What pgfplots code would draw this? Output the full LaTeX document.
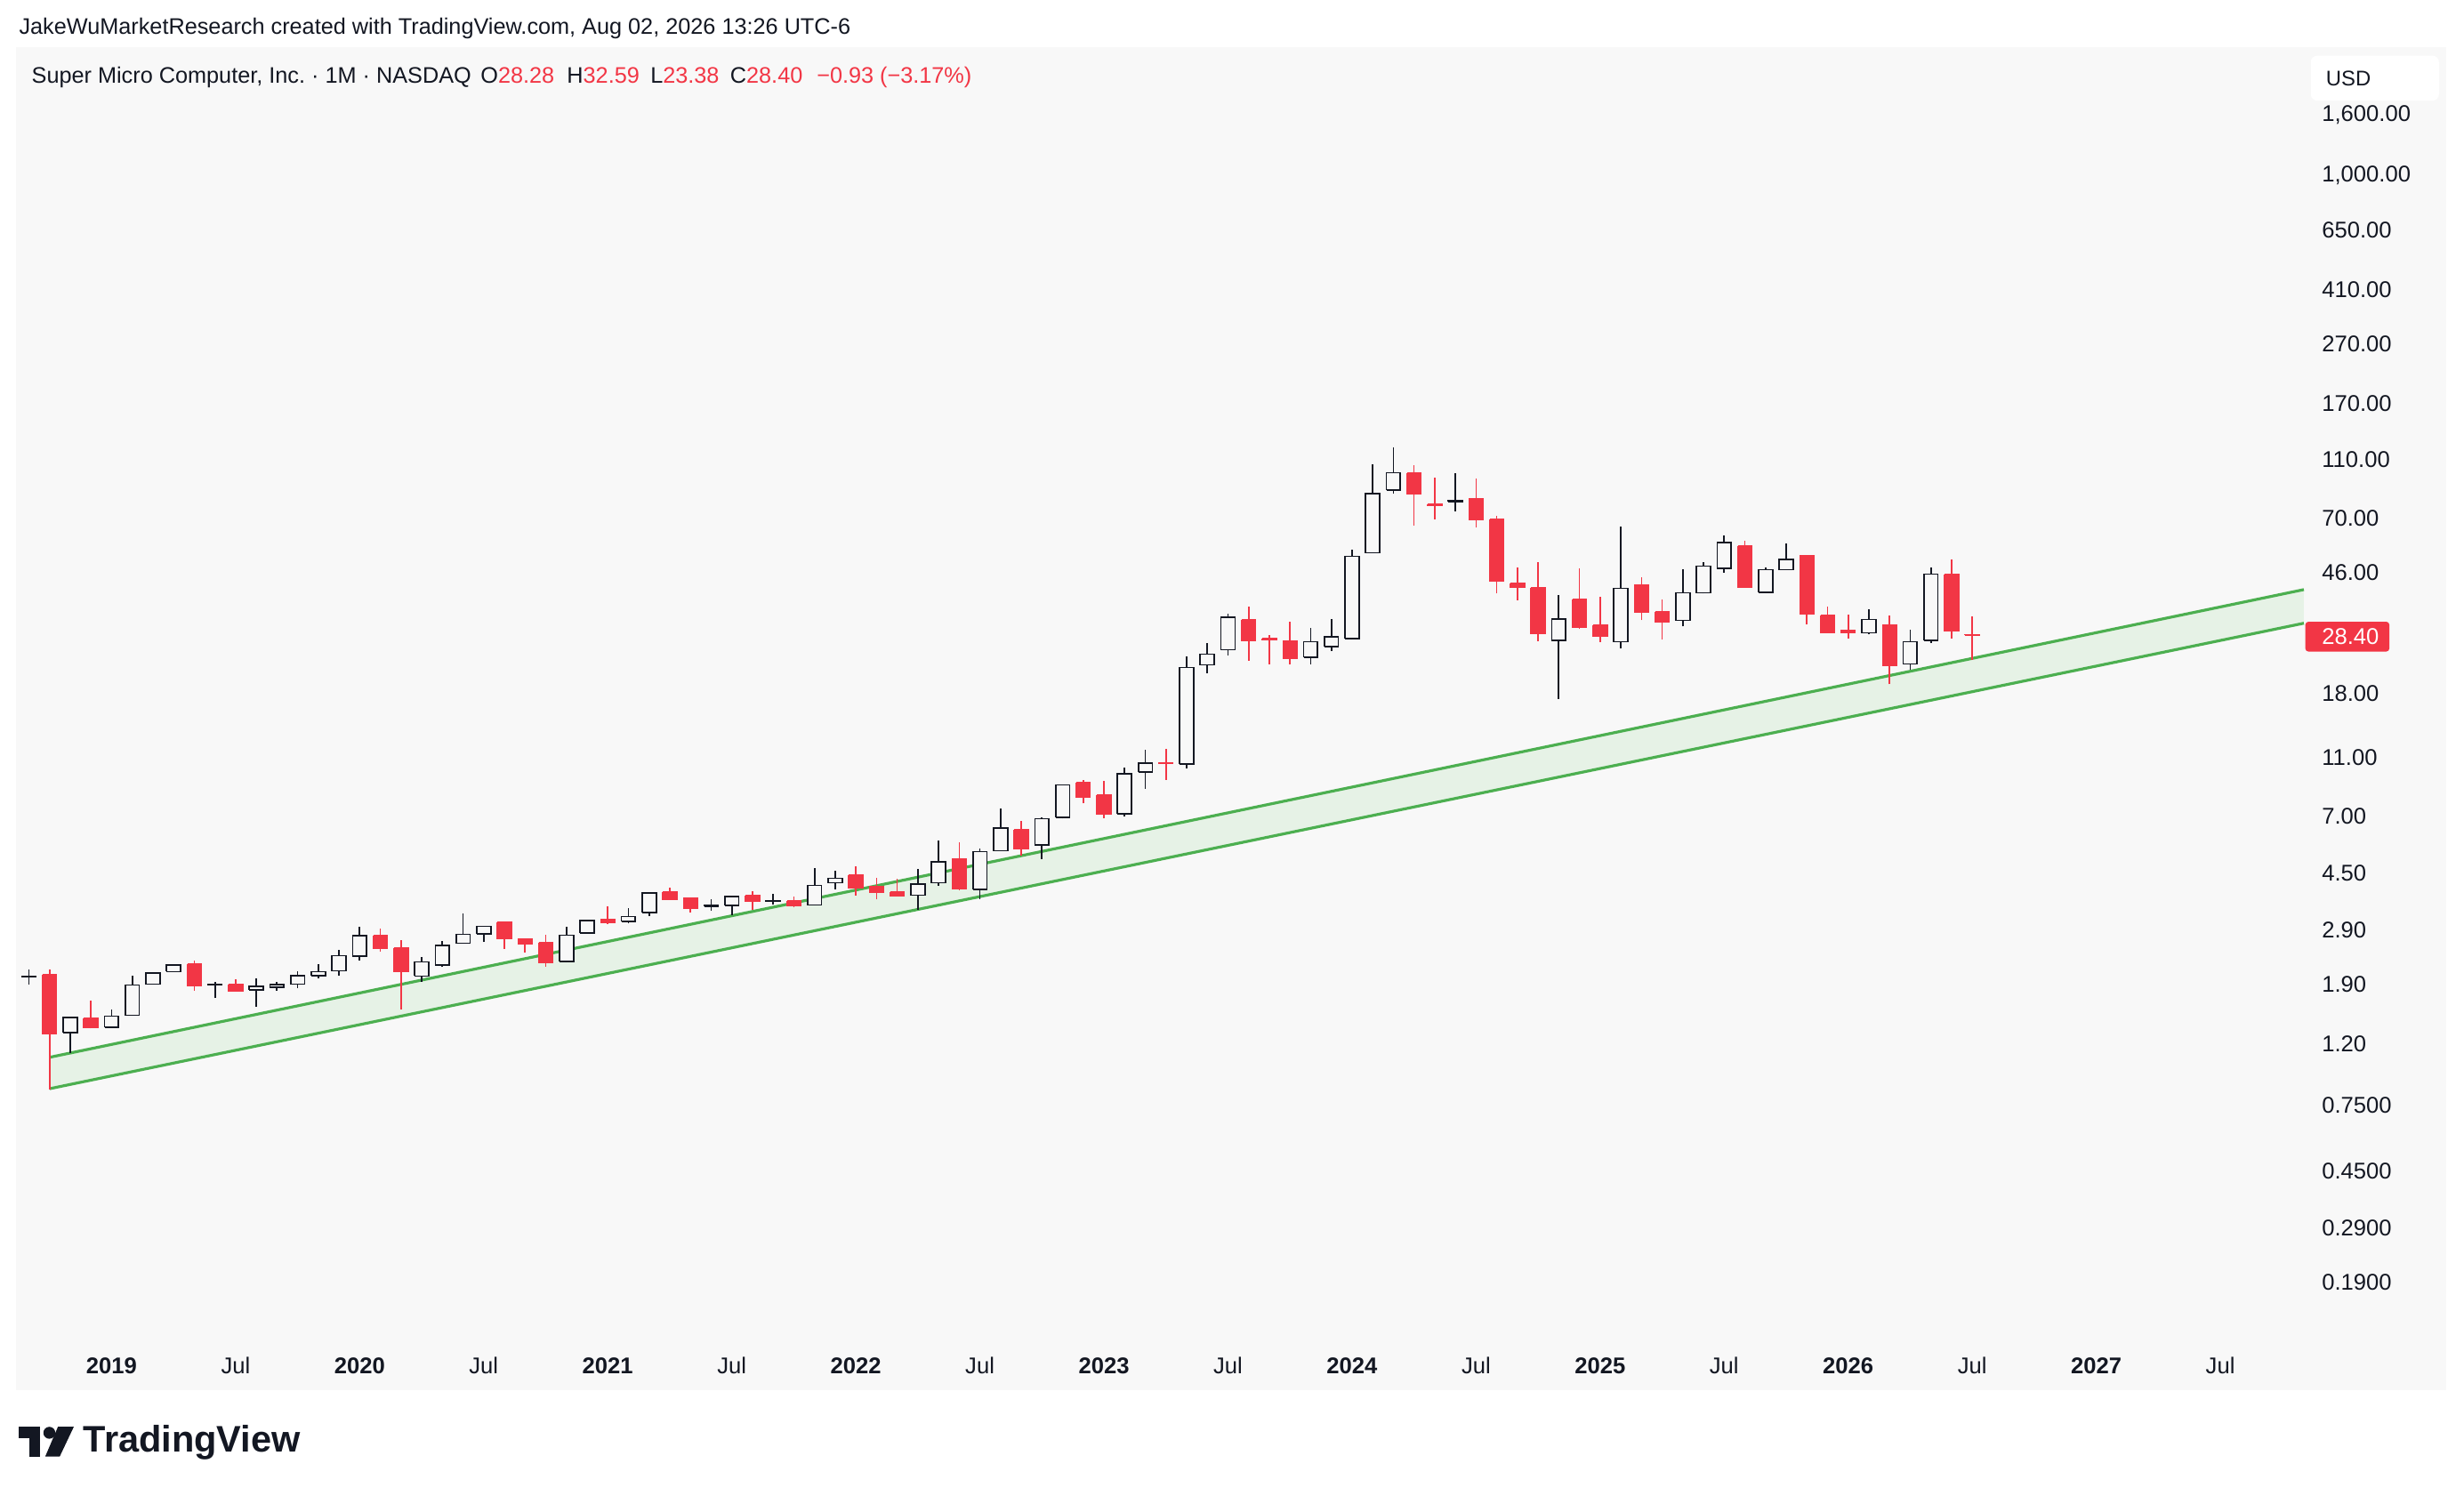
\documentclass[border=0pt]{standalone}
\usepackage{fontspec}
\setmainfont{Liberation Sans}
\usepackage{pgfplots}
\usepackage{pgfplotstable}
\pgfplotsset{compat=1.18}
\frenchspacing
\definecolor{tvred}{HTML}{F23645}
\definecolor{tvtext}{HTML}{131722}
\definecolor{panelbg}{HTML}{F8F8F8}
\definecolor{bandline}{HTML}{4CAF50}
\definecolor{bandfill}{HTML}{E6F2E6}

% months since Jan 2019 (m), open, high, low, close
\pgfplotstableread{
m o h l c
-4 2.01 2.13 1.90 2.02
-2 1.306 1.47 1.116 1.469
0 1.365 1.566 1.365 1.486
1 1.496 2.03 1.496 1.89
2 1.903 2.076 1.903 2.076
3 2.096 2.209 2.096 2.209
5 1.89 1.938 1.708 1.894
7 1.818 1.99 1.595 1.868
8 1.86 1.938 1.81 1.894
9 1.903 2.11 1.847 2.037
10 2.037 2.224 1.99 2.096
11 2.11 2.488 2.037 2.37
12 2.366 2.961 2.286 2.764
15 2.025 2.355 1.938 2.26
16 2.208 2.653 2.17 2.564
17 2.611 3.283 2.611 2.797
18 2.81 2.975 2.634 2.975
22 2.27 2.961 2.25 2.777
23 2.829 3.114 2.81 3.114
25 3.093 3.43 3.04 3.208
26 3.313 3.87 3.223 3.846
29 3.477 3.658 3.359 3.49
30 3.49 3.78 3.246 3.741
32 3.615 3.83 3.53 3.63
34 3.509 4.674 3.509 4.08
35 4.168 4.567 3.963 4.313
39 3.785 4.631 3.39 4.12
40 4.168 5.782 4.08 4.902
42 3.963 5.436 3.673 5.30
43 5.338 7.39 5.338 6.367
45 5.587 6.9 5.004 6.836
46 6.915 8.9 6.85 8.88
49 7.11 10.18 6.95 9.68
50 9.79 11.63 8.64 10.49
52 10.42 23.94 10.07 22.0
53 22.46 26.55 21.1 24.39
54 25.25 33.38 24.23 32.4
58 23.84 29.97 22.5 26.85
59 25.94 32.03 24.96 27.92
60 27.48 54.6 27.3 51.96
61 53.4 105.7 53.4 84.5
62 87.0 120.5 84.5 99.2
65 79.4 99.2 73.6 80.0
70 27.16 38.5 17.25 32.03
73 26.85 65.35 25.5 40.57
76 31.67 47.1 30.25 39.2
77 39.2 49.6 39.0 48.2
78 47.4 61.3 45.8 57.9
80 39.4 47.6 39.4 46.87
81 46.87 57.6 46.87 50.8
85 28.76 34.54 28.4 31.89
87 22.62 29.56 21.6 26.85
88 27.16 47.6 26.55 45.3
}\upTable

\pgfplotstableread{
m o h l c
-3 2.05 2.13 0.844 1.295
-1 1.459 1.678 1.35 1.362
4 2.219 2.286 1.805 1.881
6 1.903 1.983 1.805 1.805
13 2.764 2.927 2.449 2.516
14 2.52 2.684 1.566 2.096
19 3.065 3.079 2.505 2.703
20 2.703 2.703 2.437 2.593
21 2.624 2.79 2.183 2.245
24 3.129 3.477 3.024 3.065
27 3.873 4.009 3.65 3.673
28 3.70 3.715 3.313 3.414
31 3.767 3.917 3.39 3.615
33 3.615 3.741 3.45 3.493
36 4.423 4.737 3.785 4.009
37 4.036 4.342 3.658 3.873
38 3.873 4.29 3.767 3.767
41 5.004 5.69 3.945 3.981
44 6.295 6.71 5.158 5.424
47 9.04 9.21 7.70 8.06
48 8.21 9.15 6.87 7.11
51 10.56 11.76 9.25 10.49
55 31.74 35.18 23.24 27.16
56 27.48 28.3 22.6 27.3
57 27.04 31.3 22.5 23.67
63 99.2 105.0 66.1 84.3
64 77.6 95.4 69.05 77.05
66 81.2 94.7 64.9 69.05
67 69.05 71.1 39.0 42.95
68 42.27 47.6 37.0 41.03
69 40.84 49.6 27.04 28.63
71 37.2 47.3 29.6 30.0
72 30.46 38.05 26.85 28.11
74 41.5 44.15 31.74 33.78
75 33.78 37.2 27.29 31.3
79 56.3 58.5 41.03 41.03
82 52.2 52.2 30.67 33.23
83 32.85 35.18 28.76 28.76
84 29.42 33.15 27.48 28.76
86 30.46 32.85 19.35 22.36
89 45.2 50.7 27.48 29.33
90 28.28 32.59 23.38 28.40
}\downTable

\newcommand\buildcandles[4]{%
  \gdef#2{}\gdef#3{}%
  \pgfplotstablegetrowsof{#1}%
  \pgfmathtruncatemacro\nrows{\pgfplotsretval-1}%
  \foreach \i in {0,...,\nrows}{%
    \pgfplotstablegetelem{\i}{m}\of{#1}\let\cm\pgfplotsretval
    \pgfplotstablegetelem{\i}{o}\of{#1}\let\co\pgfplotsretval
    \pgfplotstablegetelem{\i}{h}\of{#1}\let\ch\pgfplotsretval
    \pgfplotstablegetelem{\i}{l}\of{#1}\let\cl\pgfplotsretval
    \pgfplotstablegetelem{\i}{c}\of{#1}\let\cc\pgfplotsretval
    \pgfmathsetmacro\xa{\cm-#4}%
    \pgfmathsetmacro\xb{\cm+#4}%
    \xdef#2{#2 (\cm,\cl) (\cm,\ch) (\cm,nan)}%
    \xdef#3{#3 (\xa,\co) (\xb,\co) (\xb,\cc) (\xa,\cc) (\xa,\co) (\cm,nan)}%
  }%
}
\buildcandles{\upTable}{\upWicks}{\upBodies}{0.34}
\buildcandles{\downTable}{\downWicks}{\downBodies}{0.34}
\def\plotwith#1#2{\addplot[#2] coordinates {#1};}

\pgfplotsset{
  upwick/.style={draw=tvtext, line width=1.0pt, mark=none, unbounded coords=jump},
  upbody/.style={draw=tvtext, fill=panelbg, line width=1.0pt, mark=none, unbounded coords=jump},
  downwick/.style={draw=tvred, line width=0.9pt, mark=none, unbounded coords=jump},
  downbody/.style={draw=tvred, fill=tvred, line width=0.9pt, mark=none, unbounded coords=jump},
}

\begin{document}
\begin{tikzpicture}
\fill[white] (0pt,0pt) rectangle (1568pt,952pt);
\begin{axis}[
  at={(10pt,67pt)}, anchor=south west,
  width=1546.6pt, height=855pt, scale only axis,
  xmin=-4.637, xmax=112.92,
  ymode=log, ymin=0.08222, ymax=2665,
  axis line style={draw=none},
  axis background/.style={fill=panelbg},
  tick style={draw=none},
  minor tick num=0,
  ytick={1600,1000,650,410,270,170,110,70,46,18,11,7,4.5,2.9,1.9,1.2,0.75,0.45,0.29,0.19},
  yticklabels={{1,600.00},{1,000.00},650.00,410.00,270.00,170.00,110.00,70.00,46.00,18.00,11.00,7.00,4.50,2.90,1.90,1.20,0.7500,0.4500,0.2900,0.1900},
  yticklabel pos=right,
  yticklabel style={anchor=base west, inner sep=0pt, xshift=-79.2pt, yshift=-5.2pt,
    font=\fontsize{14.5}{17}\selectfont, text=tvtext},
  xtick={0,6,12,18,24,30,36,42,48,54,60,66,72,78,84,90,96,102},
  xticklabels={\textbf{2019},Jul,\textbf{2020},Jul,\textbf{2021},Jul,\textbf{2022},Jul,\textbf{2023},Jul,\textbf{2024},Jul,\textbf{2025},Jul,\textbf{2026},Jul,\textbf{2027},Jul},
  xticklabel style={anchor=base, inner sep=0pt, yshift=10.8pt,
    font=\fontsize{14.5}{17}\selectfont, text=tvtext},
]
% channel
\addplot[fill=bandfill, draw=none, mark=none] coordinates {(-3,1.081) (106.04,40.2) (106.04,31.0) (-3,0.848)} -- cycle;
\addplot[draw=bandline, line width=1.8pt, mark=none] coordinates {(-3,1.081) (106.04,40.2)};
\addplot[draw=bandline, line width=1.8pt, mark=none] coordinates {(-3,0.848) (106.04,31.0)};
% candles
\expandafter\plotwith\expandafter{\upWicks}{upwick}
\expandafter\plotwith\expandafter{\downWicks}{downwick}
\expandafter\plotwith\expandafter{\upBodies}{upbody}
\expandafter\plotwith\expandafter{\downBodies}{downbody}
\end{axis}
% header
\node[anchor=base west, inner sep=0pt, font=\fontsize{14.3}{17}\selectfont, text=tvtext]
  at (12pt,930pt) {JakeWuMarketResearch created with TradingView.com, Aug 02, 2026 13:26 UTC-6};
\node[anchor=base west, inner sep=0pt, font=\fontsize{14.3}{17}\selectfont, text=tvtext]
  at (20pt,899pt) {Super Micro Computer, Inc. · 1M · NASDAQ\hspace{6pt}O\textcolor{tvred}{28.28}\hspace{8pt}H\textcolor{tvred}{32.59}\hspace{7pt}L\textcolor{tvred}{23.38}\hspace{7pt}C\textcolor{tvred}{28.40}\hspace{9pt}\textcolor{tvred}{−0.93 (−3.17\%)}};
% USD box
\fill[white, rounded corners=4pt] (1470.5pt,916.5pt) rectangle (1552pt,888pt);
\node[anchor=base west, inner sep=0pt, font=\fontsize{13.5}{16}\selectfont, text=tvtext] at (1480pt,897.5pt) {USD};
% last price label
\fill[tvred, rounded corners=2pt] (1467pt,556.3pt) rectangle (1520.5pt,537.3pt);
\node[anchor=base west, inner sep=0pt, font=\fontsize{14.5}{17}\selectfont, text=white] at (1477.4pt,541.6pt) {28.40};
% TradingView logo
\fill[tvtext] (12pt,44pt) rectangle (25.5pt,36.4pt);
\fill[tvtext] (18.8pt,44pt) rectangle (25.5pt,25pt);
\fill[tvtext] (31.4pt,40.1pt) circle (3.8pt);
\fill[tvtext] (36.9pt,44pt) -- (47pt,44pt) -- (38pt,25pt) -- (28.8pt,25pt) -- cycle;
\node[anchor=base west, inner sep=0pt, font=\fontsize{23.5}{28}\selectfont\bfseries, text=tvtext] at (53pt,28pt) {TradingView};
\pgfresetboundingbox
\useasboundingbox (0pt,0pt) rectangle (1568pt,952pt);
\end{tikzpicture}
\end{document}
